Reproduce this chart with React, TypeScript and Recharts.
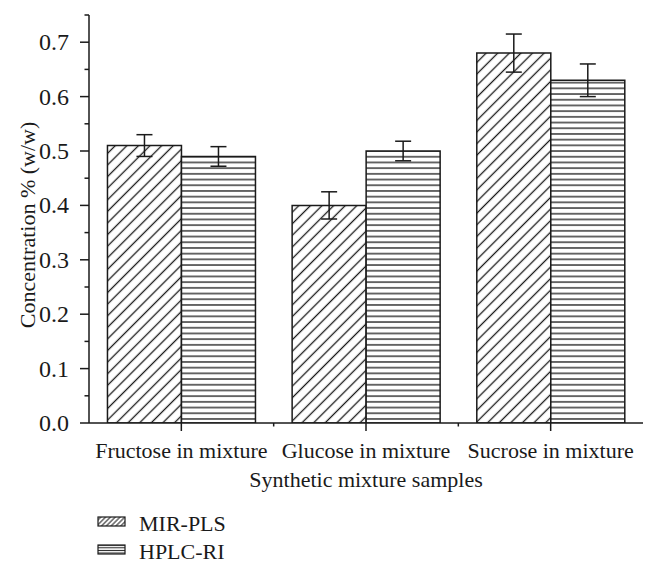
import React from 'react';
import { BarChart, Bar, XAxis, YAxis, ErrorBar } from 'recharts';

const categories = ['Fructose in mixture', 'Glucose in mixture', 'Sucrose in mixture'];
const seriesNames = ['MIR-PLS', 'HPLC-RI'];
const mirPls = [0.51, 0.40, 0.68];
const mirPlsErr = [0.02, 0.025, 0.035];
const hplcRi = [0.49, 0.50, 0.63];
const hplcRiErr = [0.018, 0.018, 0.03];
const yTicks = [0, 0.05, 0.1, 0.15, 0.2, 0.25, 0.3, 0.35, 0.4, 0.45, 0.5, 0.55, 0.6, 0.65, 0.7, 0.75];
const xTitle = 'Synthetic mixture samples';
const yTitle = 'Concentration % (w/w)';

const data = categories.map((c, i) => ({
  name: c,
  mir: mirPls[i],
  mirErr: mirPlsErr[i],
  hplc: hplcRi[i],
  hplcErr: hplcRiErr[i],
}));

const W = 657;
const H = 572;
const MARGIN = { top: 15, right: 14, left: 0, bottom: 79 };
const Y_AXIS_W = 89;
const X_AXIS_H = 70;
const FONT = '"Liberation Serif", "Times New Roman", serif';
const INK = '#1a1a1a';
const FS = 22;

const plotW = W - MARGIN.left - MARGIN.right - Y_AXIS_W;
const band = plotW / categories.length;

const YTick = (props: any) => {
  const { x, y, payload } = props;
  const v = payload.value;
  const major = Math.abs(Math.round(v * 10) - v * 10) < 1e-6;
  return (
    <g>
      <line x1={x} x2={x - (major ? 9 : 4.5)} y1={y} y2={y} stroke={INK} strokeWidth={1.5} />
      {major && (
        <text x={x - 20} y={y} dy={8} textAnchor="end" fontFamily={FONT} fontSize={24} fill={INK}>
          {v.toFixed(1)}
        </text>
      )}
    </g>
  );
};

const XTick = (props: any) => {
  const { x, y, payload, index } = props;
  return (
    <g>
      <line x1={x} x2={x} y1={y} y2={y + 8} stroke={INK} strokeWidth={1.5} />
      {index < categories.length - 1 && (
        <line x1={x + band / 2} x2={x + band / 2} y1={y} y2={y + 3.5} stroke={INK} strokeWidth={1.5} />
      )}
      <text x={x} y={y + 35} textAnchor="middle" fontFamily={FONT} fontSize={FS} fill={INK}>
        {payload.value}
      </text>
    </g>
  );
};

const XTitle = (props: any) => {
  const vb = props.viewBox;
  return (
    <text x={vb.x + vb.width / 2} y={vb.y + 64} textAnchor="middle" fontFamily={FONT} fontSize={FS} fill={INK}>
      {xTitle}
    </text>
  );
};

const YTitle = (props: any) => {
  const vb = props.viewBox;
  const cx = vb.x + 27;
  const cy = vb.y + vb.height / 2 + 6;
  return (
    <text
      x={cx}
      y={cy}
      transform={`rotate(-90 ${cx} ${cy})`}
      textAnchor="middle"
      dominantBaseline="central"
      fontFamily={FONT}
      fontSize={FS}
      fill={INK}
    >
      {yTitle}
    </text>
  );
};

const Legend2 = () => {
  const rows = [
    { name: seriesNames[0], fill: 'url(#lgHatch)', y: 517 },
    { name: seriesNames[1], fill: 'url(#lgHoriz)', y: 545 },
  ];
  return (
    <svg width={W} height={H} style={{ position: 'absolute', left: 0, top: 0, pointerEvents: 'none' }}>
      <defs>
        <pattern id="lgHatch" patternUnits="userSpaceOnUse" width="3.4" height="3.4" patternTransform="rotate(-45)">
          <rect width="3.4" height="3.4" fill="#fff" />
          <line x1="0" x2="3.4" y1="1.7" y2="1.7" stroke={INK} strokeWidth="1" />
        </pattern>
        <pattern id="lgHoriz" patternUnits="userSpaceOnUse" width="6" height="2.6" y="0.5">
          <rect width="6" height="2.6" fill="#fff" />
          <line x1="0" x2="6" y1="1.3" y2="1.3" stroke={INK} strokeWidth="1" />
        </pattern>
      </defs>
      {rows.map((r) => (
        <g key={r.name}>
          <rect x={98} y={r.y} width={27} height={9} fill={r.fill} stroke={INK} strokeWidth={1.2} />
          <text x={139} y={r.y + 14} fontFamily={FONT} fontSize={FS} fill={INK}>
            {r.name}
          </text>
        </g>
      ))}
    </svg>
  );
};

export default function App() {
  return (
    <div style={{ position: 'absolute', left: 0, top: 0, width: W, height: H, background: '#fff' }}>
      <BarChart width={W} height={H} data={data} margin={MARGIN} barCategoryGap="10%" barGap={0}>
        <defs>
          <pattern id="hatch" patternUnits="userSpaceOnUse" width="8.2" height="8.2" patternTransform="rotate(-45)">
            <rect width="8.2" height="8.2" fill="#fff" />
            <line x1="0" x2="8.2" y1="4.1" y2="4.1" stroke={INK} strokeWidth="1.3" />
          </pattern>
          <pattern id="horiz" patternUnits="userSpaceOnUse" width="10" height="5.7">
            <rect width="10" height="5.7" fill="#fff" />
            <line x1="0" x2="10" y1="2.85" y2="2.85" stroke={INK} strokeWidth="1.3" />
          </pattern>
        </defs>
        <XAxis
          dataKey="name"
          height={X_AXIS_H}
          tickSize={0}
          tickMargin={0}
          tick={<XTick />}
          interval={0}
          axisLine={{ stroke: INK, strokeWidth: 1.5 }}
          tickLine={false}
          label={<XTitle />}
        />
        <YAxis
          width={Y_AXIS_W}
          domain={[0, 0.75]}
          ticks={yTicks}
          interval={0}
          tickSize={0}
          tickMargin={0}
          tick={<YTick />}
          axisLine={{ stroke: INK, strokeWidth: 1.5 }}
          tickLine={false}
          allowDataOverflow
          label={<YTitle />}
        />
        <Bar dataKey="mir" fill="url(#hatch)" stroke={INK} strokeWidth={1.5} isAnimationActive={false}>
          <ErrorBar dataKey="mirErr" width={8} stroke={INK} strokeWidth={1.5} direction="y" />
        </Bar>
        <Bar dataKey="hplc" fill="url(#horiz)" stroke={INK} strokeWidth={1.5} isAnimationActive={false}>
          <ErrorBar dataKey="hplcErr" width={8} stroke={INK} strokeWidth={1.5} direction="y" />
        </Bar>
      </BarChart>
      <Legend2 />
    </div>
  );
}
